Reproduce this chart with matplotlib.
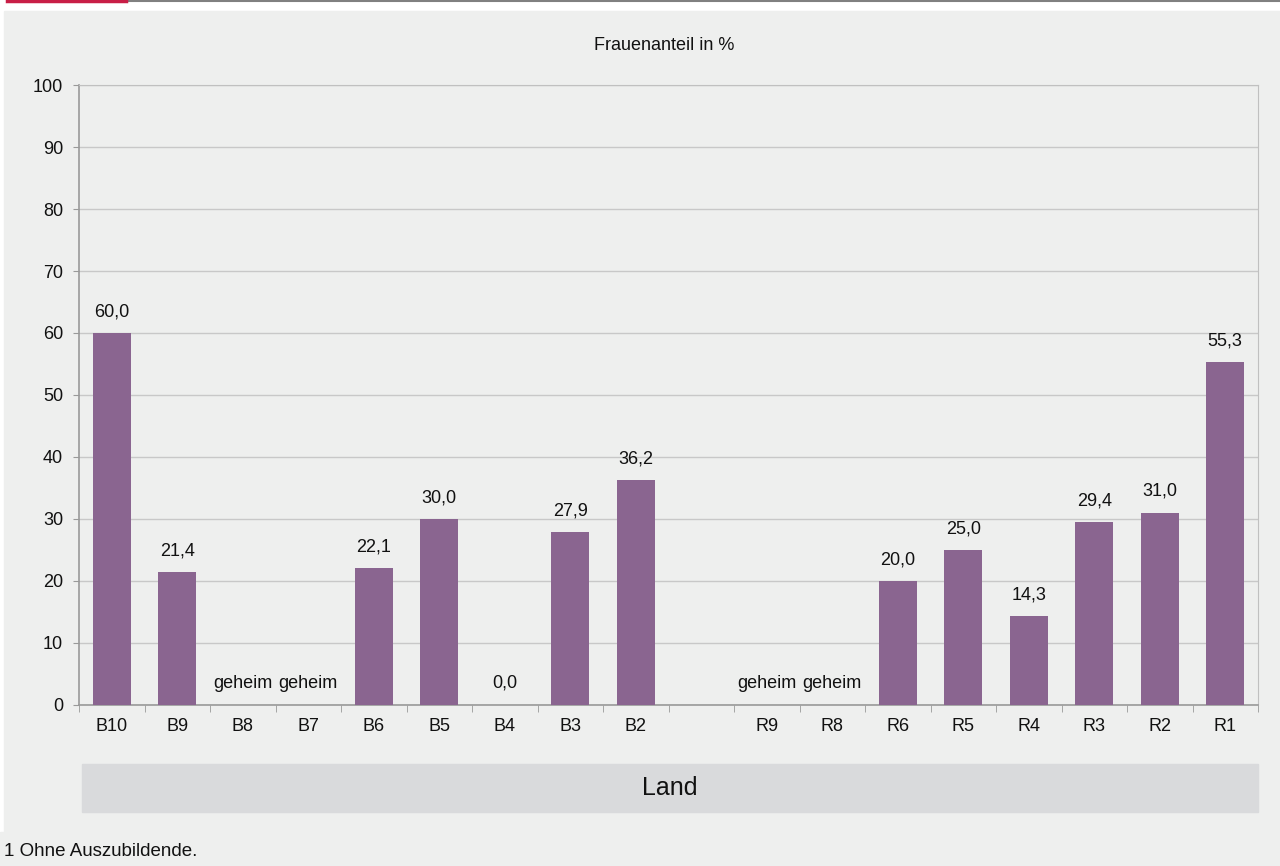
import numpy as np
import matplotlib.pyplot as plt
from matplotlib.patches import Rectangle
from matplotlib.lines import Line2D

plt.rcParams['font.family'] = ['Liberation Sans', 'DejaVu Sans']

# Data
laender = ["B10", "B9", "B8", "B7", "B6", "B5", "B4", "B3", "B2", "",
           "R9", "R8", "R6", "R5", "R4", "R3", "R2", "R1"]
# None = geheim, np.nan = leere Spalte
anteil = [60.0, 21.4, None, None, 22.1, 30.0, 0.0, 27.9, 36.2, np.nan,
          None, None, 20.0, 25.0, 14.3, 29.4, 31.0, 55.3]

W, H = 1280, 866
fig = plt.figure(figsize=(W / 100, H / 100), dpi=100)
fig.patch.set_facecolor("white")

bg = "#eeefee"
# background panels
fig.add_artist(Rectangle((4 / W, 1 - 832 / H), 1 - 4 / W, (832 - 11) / H,
                         transform=fig.transFigure, color=bg, zorder=0))
fig.add_artist(Rectangle((0, 0), 1, 1 - 832 / H,
                         transform=fig.transFigure, color=bg, zorder=0))
# top lines
fig.add_artist(Line2D([126 / W, 1], [1 - 1 / H, 1 - 1 / H], transform=fig.transFigure,
                      color="#808080", lw=1.5))
fig.add_artist(Line2D([7 / W, 126 / W], [1 - 1 / H, 1 - 1 / H], transform=fig.transFigure,
                      color="#c81e46", lw=2.5))

x0, x1 = 79, 1258
y_top, y_bot = 85.3, 704.5
ax = fig.add_axes([x0 / W, 1 - y_bot / H, (x1 - x0) / W, (y_bot - y_top) / H])
ax.set_facecolor(bg)

x = np.arange(len(laender))
vals = [v if (v is not None and not np.isnan(v)) else 0 for v in anteil]
ax.bar(x, vals, width=0.58, color="#8a6590", zorder=3)

for xi, v in zip(x, anteil):
    if v is None:
        ax.text(xi, 3.4, "geheim", ha="center", va="center", fontsize=13, color="#111111")
    elif not np.isnan(v):
        ax.text(xi, v + 3.4, f"{v:.1f}".replace(".", ","), ha="center", va="center",
                fontsize=13, color="#111111")

ax.set_xlim(-0.5, len(laender) - 0.5)
ax.set_ylim(0, 100)
ax.set_yticks(np.arange(0, 101, 10))
ax.set_xticks(x)
ax.set_xticklabels(laender)
ax.set_xticks(np.arange(-0.5, len(laender), 1), minor=True)
ax.tick_params(axis="x", which="major", length=0, pad=10, labelsize=13, labelcolor="#111111")
ax.tick_params(axis="x", which="minor", length=5, color="#999999")
ax.tick_params(axis="y", length=4, color="#999999", labelsize=13, labelcolor="#111111", pad=7.5)

ax.grid(axis="y", color="#c8c8c8", lw=1, zorder=0)
for s in ["left", "bottom"]:
    ax.spines[s].set_color("#999999")
    ax.spines[s].set_linewidth(1.2)
ax.spines["right"].set_color("#c0c0c0")
ax.spines["top"].set_color("#c0c0c0")

fig.text(664 / W, 1 - 45 / H, "Frauenanteil in %", ha="center", va="center",
         fontsize=13, color="#111111")

# Land box
fig.add_artist(Rectangle((82 / W, 1 - 812 / H), (1258 - 82) / W, (812 - 764) / H,
                         transform=fig.transFigure, color="#d9dadc", zorder=1))
fig.text((82 + 1258) / 2 / W, 1 - 788 / H, "Land", ha="center", va="center",
         fontsize=18, color="#111111")

fig.text(4 / W, 1 - 851 / H, "1 Ohne Auszubildende.", ha="left", va="center",
         fontsize=13.5, color="#111111")

fig.savefig("out.png", dpi=100)
